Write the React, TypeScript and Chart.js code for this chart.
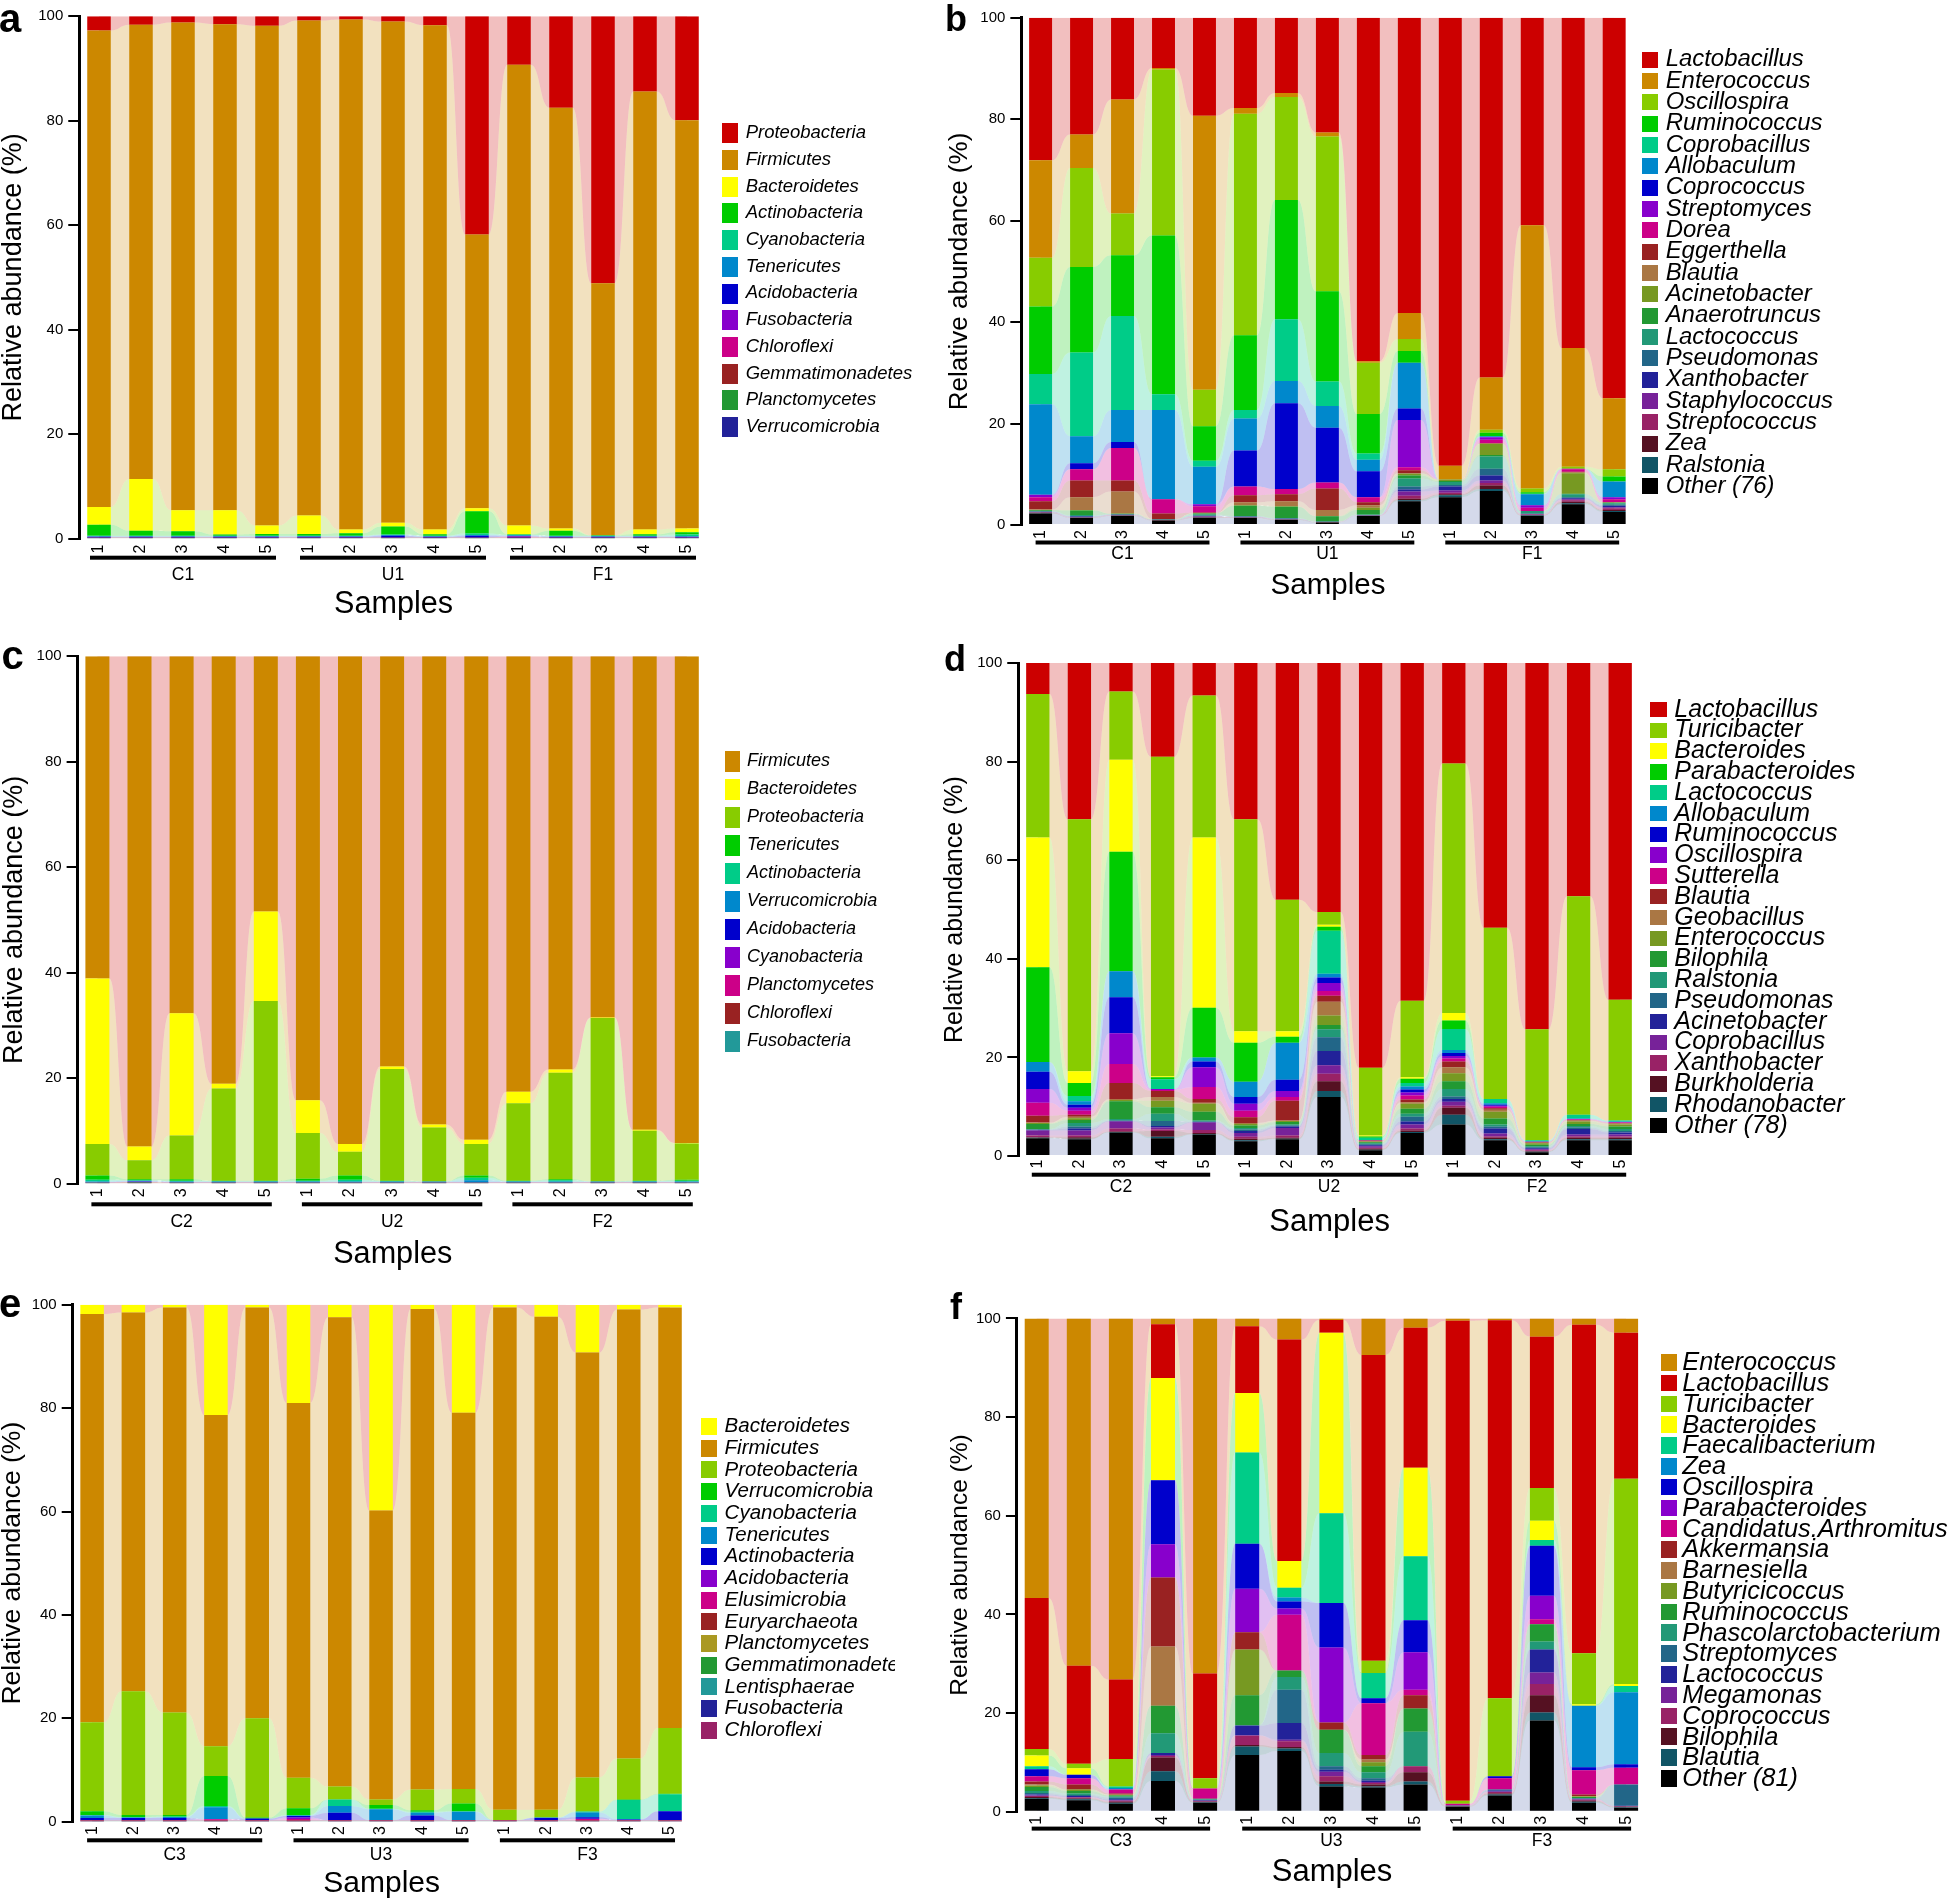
import React, { useEffect, useRef } from 'react';
import { Chart, registerables } from 'chart.js';

Chart.register(...registerables);

const SANS = '"Liberation Sans", Arial, Helvetica, sans-serif';

// ---------- shared x positions / labels ----------
const SAMPLE_IDX = [0, 1, 2, 3, 4, 5, 6, 7, 8, 9, 10, 11, 12, 13, 14];
const SAMPLE_NUMS = ['1', '2', '3', '4', '5', '1', '2', '3', '4', '5', '1', '2', '3', '4', '5'];
const GROUP_START = [0, 5, 10];
const GROUP_END = [4, 9, 14];

// colours of the translucent flows, by legend rank
const FLOW_PALETTE = ['#CC0000', '#CC8800', '#88CC00', '#00CC00', '#00CC88', '#0088CC', '#0000CC', '#8800CC', '#CC0088', '#992222', '#AA7744', '#779922', '#229933', '#229977', '#226688', '#222299', '#772299', '#992266', '#551122', '#115566', '#5566AA'];

const RED = '#CC0000', ORANGE = '#CC8800', YELLOW = '#FFFF00', YGREEN = '#88CC00', GREEN = '#00CC00', TEAL = '#00CC88', LBLUE = '#0088CC', BLUE = '#0000CC', PURPLE = '#8800CC', MAGENTA = '#CC0088', BRICK = '#992222', TAN = '#AA7744', OLIVE = '#779922', LEAF = '#229933', SEA = '#229977', STEEL = '#226688', NAVY = '#222299', PLUM = '#772299', ROSE = '#992266', MAROON = '#551122', DTEAL = '#115566', CYAN2 = '#229999', MUSTARD = '#AA9922', BLACK = '#000000';

// ---------- panel a (phylum, C1/U1/F1) ----------
const aGroups = ['C1', 'U1', 'F1'];
const aTaxa = ['Proteobacteria', 'Firmicutes', 'Bacteroidetes', 'Actinobacteria', 'Cyanobacteria', 'Tenericutes', 'Acidobacteria', 'Fusobacteria', 'Chloroflexi', 'Gemmatimonadetes', 'Planctomycetes', 'Verrucomicrobia'];
const aColors = [RED, ORANGE, YELLOW, GREEN, TEAL, LBLUE, BLUE, PURPLE, MAGENTA, BRICK, LEAF, NAVY];
const aProteobacteria = [2.7, 1.6, 1.2, 1.5, 1.8, 0.8, 0.6, 1.0, 1.7, 41.8, 9.3, 17.5, 51.1, 14.4, 19.9];
const aFirmicutes = [91.25, 87.0, 93.4, 93.1, 95.7, 94.8, 97.7, 96.0, 96.6, 52.4, 88.2, 80.6, 48.3, 83.9, 78.2];
const aBacteroidetes = [3.4, 9.9, 4.0, 4.65, 1.65, 3.55, 0.7, 0.7, 0.9, 0.6, 1.7, 0.4, 0, 0.9, 0.7];
const aActinobacteria = [2.1, 0.95, 0.85, 0.2, 0.3, 0.3, 0.45, 1.55, 0.25, 4.25, 0.1, 0.95, 0.05, 0.25, 0.45];
const aCyanobacteria = [0.1, 0.1, 0.1, 0.1, 0.1, 0.1, 0.1, 0.1, 0.1, 0.3, 0.1, 0.1, 0.1, 0.1, 0.3];
const aTenericutes = [0.1, 0.1, 0.1, 0.1, 0.1, 0.1, 0.1, 0.1, 0.1, 0.1, 0.1, 0.1, 0.1, 0.1, 0.1];
const aAcidobacteria = [0.1, 0.1, 0.1, 0.1, 0.1, 0.1, 0.1, 0.3, 0.1, 0.3, 0.1, 0.1, 0.1, 0.1, 0.1];
const aFusobacteria = [0.05, 0.05, 0.05, 0.05, 0.05, 0.05, 0.05, 0.05, 0.05, 0.05, 0.05, 0.05, 0.05, 0.05, 0.05];
const aChloroflexi = [0.05, 0.05, 0.05, 0.05, 0.05, 0.05, 0.05, 0.05, 0.05, 0.05, 0.2, 0.05, 0.05, 0.05, 0.05];
const aGemmatimonadetes = [0.05, 0.05, 0.05, 0.05, 0.05, 0.05, 0.05, 0.05, 0.05, 0.05, 0.05, 0.05, 0.05, 0.05, 0.05];
const aPlanctomycetes = [0.05, 0.05, 0.05, 0.05, 0.05, 0.05, 0.05, 0.05, 0.05, 0.05, 0.05, 0.05, 0.05, 0.05, 0.05];
const aVerrucomicrobia = [0.05, 0.05, 0.05, 0.05, 0.05, 0.05, 0.05, 0.05, 0.05, 0.05, 0.05, 0.05, 0.05, 0.05, 0.05];
const aValues = [aProteobacteria, aFirmicutes, aBacteroidetes, aActinobacteria, aCyanobacteria, aTenericutes, aAcidobacteria, aFusobacteria, aChloroflexi, aGemmatimonadetes, aPlanctomycetes, aVerrucomicrobia];

// ---------- panel b (genus, C1/U1/F1) ----------
const bGroups = ['C1', 'U1', 'F1'];
const bTaxa = ['Lactobacillus', 'Enterococcus', 'Oscillospira', 'Ruminococcus', 'Coprobacillus', 'Allobaculum', 'Coprococcus', 'Streptomyces', 'Dorea', 'Eggerthella', 'Blautia', 'Acinetobacter', 'Anaerotruncus', 'Lactococcus', 'Pseudomonas', 'Xanthobacter', 'Staphylococcus', 'Streptococcus', 'Zea', 'Ralstonia', 'Other (76)'];
const bColors = [RED, ORANGE, YGREEN, GREEN, TEAL, LBLUE, BLUE, PURPLE, MAGENTA, BRICK, TAN, OLIVE, LEAF, SEA, STEEL, NAVY, PLUM, ROSE, MAROON, DTEAL, BLACK];
const bLactobacillus = [28.1, 23.0, 16.1, 9.9, 19.3, 17.8, 14.8, 22.6, 67.7, 58.2, 88.3, 70.9, 40.9, 65.1, 75.0];
const bEnterococcus = [19.2, 6.6, 22.5, 0.3, 54.0, 1.1, 0.8, 0.8, 0.3, 5.1, 2.7, 10.3, 51.9, 23.4, 14.0];
const bOscillospira = [9.6, 19.5, 8.2, 32.7, 7.2, 43.7, 20.3, 30.5, 10.1, 2.4, 0, 0.6, 0.7, 0.4, 1.4];
const bRuminococcus = [13.3, 16.9, 12.0, 31.3, 6.8, 14.7, 23.5, 17.8, 7.8, 2.3, 0, 0.7, 0.3, 0, 1.0];
const bCoprobacillus = [6.0, 16.5, 18.5, 3.1, 1.2, 1.7, 12.2, 4.8, 1.2, 0, 0, 0, 0.1, 0, 0];
const bAllobaculum = [17.8, 5.3, 6.3, 17.6, 7.4, 6.3, 4.4, 4.3, 2.3, 9.0, 0, 0.2, 2.2, 0, 3.1];
const bCoprococcus = [0, 1.2, 1.2, 0, 0, 7.1, 16.9, 10.8, 5.1, 2.3, 0, 0, 0, 0, 0];
const bStreptomyces = [0.5, 0, 0, 0, 0.4, 0, 0, 0, 0, 9.3, 0, 0.5, 0.5, 0.1, 0.4];
const bDorea = [0.8, 2.2, 6.4, 2.8, 1.2, 1.7, 1.0, 1.2, 1.0, 0.6, 0, 0.6, 0.6, 0.5, 0.6];
const bEggerthella = [1.6, 3.3, 2.2, 1.1, 0.1, 1.4, 1.4, 4.2, 0.6, 0.6, 0, 0.1, 0, 0.1, 0];
const bBlautia = [0.1, 2.5, 4.3, 0, 0.05, 0.6, 1.0, 1.2, 0.5, 0.1, 0, 0.1, 0, 0.2, 0];
const bAcinetobacter = [0.05, 0.1, 0.05, 0.03, 0.05, 0.1, 0.1, 0.07, 0.4, 0.3, 0.3, 2.2, 0, 4.0, 0.1];
const bAnaerotruncus = [0.15, 0.9, 0.1, 0.06, 0.2, 2.0, 2.2, 1.0, 0.9, 0.6, 0.2, 0.3, 0, 0.1, 0.1];
const bLactococcus = [0.1, 0.2, 0.05, 0.03, 0.2, 0.1, 0.1, 0.05, 0.12, 1.6, 0.6, 2.4, 0.5, 0.6, 0.3];
const bPseudomonas = [0.05, 0.1, 0.05, 0.03, 0.1, 0.05, 0.05, 0.03, 0.03, 0.6, 0.3, 1.3, 0.1, 0.2, 0.2];
const bXanthobacter = [0.1, 0.1, 0.05, 0.03, 0.1, 0.05, 0.05, 0.03, 0.03, 0.4, 0.8, 1.0, 0.05, 0.2, 0.3];
const bStaphylococcus = [0.05, 0.05, 0.05, 0.03, 0.05, 0.05, 0.05, 0.03, 0.03, 0.8, 0.4, 0.5, 0.05, 0.2, 0.2];
const bStreptococcus = [0.05, 0.05, 0.05, 0.03, 0.1, 0.05, 0.05, 0.03, 0.03, 0.6, 0.3, 0.5, 0.1, 0.3, 0.3];
const bZea = [0.1, 0.05, 0.05, 0.03, 0.1, 0.05, 0.05, 0.03, 0.03, 0.3, 0.2, 0.7, 0.1, 0.3, 0.2];
const bRalstonia = [0.05, 0.05, 0.05, 0.03, 0.05, 0.05, 0.05, 0.03, 0.03, 0.2, 0.4, 0.4, 0.1, 0.2, 0.2];
const bOther = [2.3, 1.4, 1.8, 0.9, 1.4, 1.4, 1.0, 0.5, 1.8, 4.7, 5.5, 6.7, 1.8, 4.1, 2.6];
const bValues = [bLactobacillus, bEnterococcus, bOscillospira, bRuminococcus, bCoprobacillus, bAllobaculum, bCoprococcus, bStreptomyces, bDorea, bEggerthella, bBlautia, bAcinetobacter, bAnaerotruncus, bLactococcus, bPseudomonas, bXanthobacter, bStaphylococcus, bStreptococcus, bZea, bRalstonia, bOther];

// ---------- panel c (phylum, C2/U2/F2) ----------
const cGroups = ['C2', 'U2', 'F2'];
const cTaxa = ['Firmicutes', 'Bacteroidetes', 'Proteobacteria', 'Tenericutes', 'Actinobacteria', 'Verrucomicrobia', 'Acidobacteria', 'Cyanobacteria', 'Planctomycetes', 'Chloroflexi', 'Fusobacteria'];
const cColors = [ORANGE, YELLOW, YGREEN, GREEN, TEAL, LBLUE, BLUE, PURPLE, MAGENTA, BRICK, CYAN2];
const cFirmicutes = [61.1, 93.0, 67.7, 81.1, 48.4, 84.2, 92.5, 77.8, 88.8, 91.7, 82.6, 78.4, 68.5, 89.8, 92.3];
const cBacteroidetes = [31.4, 2.6, 23.2, 0.9, 17.0, 6.2, 1.5, 0.5, 0.6, 0.8, 2.2, 0.6, 0.1, 0.2, 0.1];
const cProteobacteria = [6.0, 3.6, 8.3, 17.5, 34.1, 8.7, 4.5, 21.2, 10.2, 6.0, 14.7, 20.2, 31.0, 9.5, 6.9];
const cTenericutes = [0.8, 0.2, 0.3, 0.05, 0.05, 0.4, 0.8, 0.05, 0, 0.4, 0.05, 0.2, 0, 0.05, 0.2];
const cActinobacteria = [0.3, 0.1, 0.1, 0.05, 0.05, 0.1, 0.3, 0.05, 0, 0.5, 0.05, 0.2, 0, 0.05, 0.1];
const cVerrucomicrobia = [0.1, 0.1, 0.1, 0.1, 0.1, 0.1, 0.1, 0.1, 0.1, 0.3, 0.1, 0.1, 0.1, 0.1, 0.1];
const cAcidobacteria = [0.05, 0.05, 0.05, 0.05, 0.05, 0.05, 0.05, 0.05, 0.05, 0.05, 0.05, 0.05, 0.05, 0.05, 0.05];
const cCyanobacteria = [0.05, 0.05, 0.05, 0.05, 0.05, 0.05, 0.05, 0.05, 0.05, 0.05, 0.05, 0.05, 0.05, 0.05, 0.05];
const cPlanctomycetes = [0.05, 0.05, 0.05, 0.05, 0.05, 0.05, 0.05, 0.05, 0.05, 0.05, 0.05, 0.05, 0.05, 0.05, 0.05];
const cChloroflexi = [0.1, 0.2, 0.1, 0.1, 0.1, 0.1, 0.1, 0.1, 0.1, 0.1, 0.1, 0.1, 0.1, 0.1, 0.1];
const cFusobacteria = [0.05, 0.05, 0.05, 0.05, 0.05, 0.05, 0.05, 0.05, 0.05, 0.05, 0.05, 0.05, 0.05, 0.05, 0.05];
const cValues = [cFirmicutes, cBacteroidetes, cProteobacteria, cTenericutes, cActinobacteria, cVerrucomicrobia, cAcidobacteria, cCyanobacteria, cPlanctomycetes, cChloroflexi, cFusobacteria];

// ---------- panel d (genus, C2/U2/F2) ----------
const dGroups = ['C2', 'U2', 'F2'];
const dTaxa = ['Lactobacillus', 'Turicibacter', 'Bacteroides', 'Parabacteroides', 'Lactococcus', 'Allobaculum', 'Ruminococcus', 'Oscillospira', 'Sutterella', 'Blautia', 'Geobacillus', 'Enterococcus', 'Bilophila', 'Ralstonia', 'Pseudomonas', 'Acinetobacter', 'Coprobacillus', 'Xanthobacter', 'Burkholderia', 'Rhodanobacter', 'Other (78)'];
const dColors = [RED, YGREEN, YELLOW, GREEN, TEAL, LBLUE, BLUE, PURPLE, MAGENTA, BRICK, TAN, OLIVE, LEAF, SEA, STEEL, NAVY, PLUM, ROSE, MAROON, DTEAL, BLACK];
const dLactobacillus = [6.3, 31.7, 5.8, 19.0, 6.6, 31.7, 48.0, 50.5, 82.1, 68.5, 20.4, 53.7, 74.3, 47.3, 68.3];
const dTuricibacter = [29.1, 51.1, 13.8, 64.8, 28.8, 43.0, 26.7, 2.6, 13.7, 15.5, 50.6, 34.7, 22.5, 44.3, 24.5];
const dBacteroides = [26.3, 2.4, 18.7, 0.2, 34.5, 2.3, 1.1, 0.4, 0.2, 0.3, 1.5, 0, 0, 0, 0];
const dParabacteroides = [19.2, 2.6, 24.2, 0.4, 10.1, 7.9, 1.2, 0.8, 0.3, 0.9, 1.7, 0, 0, 0, 0];
const dLactococcus = [0, 1.1, 0, 2.0, 0, 0, 0, 8.7, 0.5, 0.7, 4.3, 0.9, 0.2, 0.8, 0.2];
const dAllobaculum = [2.0, 0.7, 5.3, 0, 0.8, 3.1, 7.5, 0.8, 0, 0.6, 0.6, 0.3, 0.1, 0.1, 0.1];
const dRuminococcus = [3.5, 0.6, 7.3, 0, 1.2, 1.4, 2.3, 1.1, 0, 0.6, 0.6, 0.2, 0, 0, 0];
const dOscillospira = [2.8, 0.6, 6.2, 0.2, 4.0, 1.4, 1.2, 1.6, 0, 0.6, 0.5, 0.2, 0, 0.1, 0.1];
const dSutterella = [2.6, 0.8, 3.9, 0.2, 2.4, 1.3, 0.8, 1.0, 0.1, 0.8, 0.6, 0.3, 0.1, 0.1, 0.1];
const dBlautia = [1.4, 0.4, 3.2, 1.2, 0.8, 1.2, 4.0, 1.2, 0.1, 0.6, 1.2, 0.3, 0.1, 0.1, 0.1];
const dGeobacillus = [0.1, 0.3, 0.2, 0.8, 0.2, 0.2, 0.1, 2.8, 0.1, 0.3, 1.2, 0.4, 0.1, 0.2, 0.2];
const dEnterococcus = [0.2, 0.4, 0.3, 1.3, 1.6, 0.3, 0.2, 1.9, 0.1, 1.0, 1.6, 1.4, 0.3, 0.5, 0.4];
const dBilophila = [1.0, 0.6, 3.6, 1.3, 1.8, 0.5, 0.5, 0.9, 0.2, 1.0, 1.6, 1.2, 0.3, 0.4, 0.5];
const dRalstonia = [0.1, 0.7, 0.3, 1.5, 0.2, 0.3, 0.2, 1.6, 0.2, 0.6, 1.5, 0.4, 0.2, 0.3, 0.4];
const dPseudomonas = [0.1, 0.4, 0.1, 1.0, 0.1, 0.3, 0.2, 2.8, 0.2, 1.0, 0.5, 0.4, 0.2, 0.3, 0.3];
const dAcinetobacter = [0.1, 0.4, 0.1, 0.3, 0.1, 0.4, 0.3, 2.9, 0.2, 0.6, 0.6, 1.0, 0.2, 1.1, 0.4];
const dCoprobacillus = [1.0, 1.0, 1.4, 0.4, 1.5, 0.8, 1.5, 1.7, 0.3, 0.8, 0.8, 0.6, 0.2, 0.4, 0.4];
const dXanthobacter = [0.4, 0.4, 0.6, 0.3, 0.6, 0.4, 0.5, 1.5, 0.2, 0.4, 0.4, 0.3, 0.2, 0.3, 0.3];
const dBurkholderia = [0.1, 0.3, 0.1, 1.2, 0.2, 0.3, 0.2, 2.0, 0.2, 0.3, 1.4, 0.3, 0.1, 0.3, 0.3];
const dRhodanobacter = [0.1, 0.1, 0.1, 0.3, 0.1, 0.2, 0.1, 1.2, 0.1, 0.2, 2.0, 0.2, 0.1, 0.2, 0.2];
const dOther = [3.6, 3.4, 4.8, 3.6, 4.4, 3.0, 3.4, 12.0, 1.2, 4.7, 6.4, 3.2, 0.8, 3.2, 3.2];
const dValues = [dLactobacillus, dTuricibacter, dBacteroides, dParabacteroides, dLactococcus, dAllobaculum, dRuminococcus, dOscillospira, dSutterella, dBlautia, dGeobacillus, dEnterococcus, dBilophila, dRalstonia, dPseudomonas, dAcinetobacter, dCoprobacillus, dXanthobacter, dBurkholderia, dRhodanobacter, dOther];

// ---------- panel e (phylum, C3/U3/F3) ----------
const eGroups = ['C3', 'U3', 'F3'];
const eTaxa = ['Bacteroidetes', 'Firmicutes', 'Proteobacteria', 'Verrucomicrobia', 'Cyanobacteria', 'Tenericutes', 'Actinobacteria', 'Acidobacteria', 'Elusimicrobia', 'Euryarchaeota', 'Planctomycetes', 'Gemmatimonadetes', 'Lentisphaerae', 'Fusobacteria', 'Chloroflexi'];
const eColors = [YELLOW, ORANGE, YGREEN, GREEN, TEAL, LBLUE, BLUE, PURPLE, MAGENTA, BRICK, MUSTARD, LEAF, CYAN2, NAVY, ROSE];
const eBacteroidetes = [1.8, 1.5, 0.5, 21.3, 0.5, 19.0, 2.4, 39.8, 0.8, 20.9, 0.5, 2.3, 9.2, 0.9, 0.5];
const eFirmicutes = [79.0, 73.3, 78.4, 64.1, 79.5, 72.5, 90.8, 55.9, 93.0, 72.8, 97.2, 95.4, 82.2, 86.9, 81.4];
const eProteobacteria = [17.2, 23.9, 19.8, 5.8, 19.2, 5.9, 2.5, 1.1, 4.0, 2.8, 2.0, 1.5, 6.6, 7.9, 12.7];
const eVerrucomicrobia = [0.7, 0.4, 0.3, 5.8, 0.2, 1.3, 0, 0.7, 0.3, 1.5, 0, 0, 0, 0.1, 0.1];
const eCyanobacteria = [0.1, 0.1, 0.1, 0.2, 0, 0.1, 1.3, 0.1, 0.2, 0.1, 0, 0, 0.2, 3.7, 3.3];
const eTenericutes = [0.5, 0.1, 0.2, 2.3, 0, 0.1, 1.3, 2.1, 0.5, 1.6, 0, 0.1, 0.9, 0.1, 0];
const eActinobacteria = [0.4, 0.4, 0.4, 0, 0.3, 0.3, 1.4, 0, 0.9, 0, 0, 0.4, 0.3, 0.1, 1.7];
const eAcidobacteria = [0.05, 0.05, 0.05, 0.05, 0.05, 0.3, 0.05, 0.05, 0.05, 0.05, 0.05, 0.05, 0.05, 0.05, 0.05];
const eElusimicrobia = [0.05, 0.05, 0.05, 0.25, 0.05, 0.3, 0.05, 0.05, 0.05, 0.05, 0.05, 0.05, 0.3, 0.05, 0.05];
const eEuryarchaeota = [0.05, 0.05, 0.05, 0.05, 0.05, 0.05, 0.05, 0.05, 0.05, 0.05, 0.05, 0.05, 0.05, 0.05, 0.05];
const ePlanctomycetes = [0.03, 0.03, 0.03, 0.03, 0.03, 0.03, 0.03, 0.03, 0.03, 0.03, 0.03, 0.03, 0.03, 0.03, 0.03];
const eGemmatimonadetes = [0.03, 0.03, 0.03, 0.03, 0.03, 0.03, 0.03, 0.03, 0.03, 0.03, 0.03, 0.03, 0.03, 0.03, 0.03];
const eLentisphaerae = [0.03, 0.03, 0.03, 0.03, 0.03, 0.03, 0.03, 0.03, 0.03, 0.03, 0.03, 0.03, 0.03, 0.03, 0.03];
const eFusobacteria = [0.03, 0.03, 0.03, 0.03, 0.03, 0.03, 0.03, 0.03, 0.03, 0.03, 0.03, 0.03, 0.03, 0.03, 0.03];
const eChloroflexi = [0.03, 0.03, 0.03, 0.03, 0.03, 0.03, 0.03, 0.03, 0.03, 0.03, 0.03, 0.03, 0.03, 0.03, 0.03];
const eValues = [eBacteroidetes, eFirmicutes, eProteobacteria, eVerrucomicrobia, eCyanobacteria, eTenericutes, eActinobacteria, eAcidobacteria, eElusimicrobia, eEuryarchaeota, ePlanctomycetes, eGemmatimonadetes, eLentisphaerae, eFusobacteria, eChloroflexi];

// ---------- panel f (genus, C3/U3/F3) ----------
const fGroups = ['C3', 'U3', 'F3'];
const fTaxa = ['Enterococcus', 'Lactobacillus', 'Turicibacter', 'Bacteroides', 'Faecalibacterium', 'Zea', 'Oscillospira', 'Parabacteroides', 'Candidatus.Arthromitus', 'Akkermansia', 'Barnesiella', 'Butyricicoccus', 'Ruminococcus', 'Phascolarctobacterium', 'Streptomyces', 'Lactococcus', 'Megamonas', 'Coprococcus', 'Bilophila', 'Blautia', 'Other (81)'];
const fColors = [ORANGE, RED, YGREEN, YELLOW, TEAL, LBLUE, BLUE, PURPLE, MAGENTA, BRICK, TAN, OLIVE, LEAF, SEA, STEEL, NAVY, PLUM, ROSE, MAROON, DTEAL, BLACK];
const fEnterococcus = [56.7, 70.4, 73.2, 1.2, 72.0, 1.6, 4.3, 0.3, 7.4, 1.9, 0.5, 0.4, 3.7, 1.3, 2.9];
const fLactobacillus = [30.6, 19.9, 16.1, 10.9, 21.2, 13.5, 44.9, 2.6, 62.0, 28.4, 97.3, 76.6, 30.7, 66.6, 29.6];
const fTuricibacter = [1.3, 0.9, 5.6, 0, 2.1, 0, 0, 0, 2.5, 0, 0.6, 15.8, 6.6, 10.3, 41.6];
const fBacteroides = [2.2, 1.3, 0, 20.7, 0, 12.1, 5.4, 36.6, 0, 17.9, 0, 0, 3.9, 0.3, 0.4];
const fFaecalibacterium = [0.6, 0, 0.3, 0, 0, 18.5, 2.0, 18.2, 5.1, 13.0, 0, 0, 1.2, 0, 1.3];
const fZea = [0, 0, 0.3, 0, 0, 0, 0.8, 0, 0, 0, 0, 0, 0, 12.5, 14.6];
const fOscillospira = [1.4, 0.7, 0, 13.0, 0, 9.1, 1.4, 9.0, 1.0, 6.5, 0, 0.4, 10.1, 0.6, 0.7];
const fParabacteroides = [0, 0, 0, 6.7, 0, 8.8, 1.3, 15.2, 0, 7.6, 0, 0, 4.8, 0, 0];
const fArthromitus = [1.1, 1.3, 0.8, 0, 2.1, 0, 11.3, 0, 10.5, 1.1, 0.3, 2.3, 1.0, 4.9, 3.4];
const fAkkermansia = [0.6, 1.0, 0.2, 14.0, 0, 3.5, 0, 1.5, 0.9, 2.7, 0, 0, 0, 0.3, 0];
const fBarnesiella = [0.2, 0, 0.1, 12.0, 0, 0, 0, 0, 0.6, 0, 0, 0, 0, 0.1, 0];
const fButyricicoccus = [0.3, 0.3, 0.1, 0, 0, 9.3, 0, 0, 0.8, 0, 0, 0, 0, 0.1, 0];
const fRuminococcus = [0.8, 0.5, 0.2, 5.6, 0.1, 6.1, 1.3, 4.7, 1.2, 4.7, 0, 0, 3.5, 0.2, 0];
const fPhascolarctobacterium = [0.4, 0.3, 0.2, 4.0, 0.1, 0, 2.6, 2.7, 1.2, 7.0, 0, 0, 1.6, 0.1, 0];
const fStreptomyces = [0.3, 0.2, 0.4, 0, 0.1, 0.1, 6.7, 0.7, 0.5, 0, 0.05, 0.2, 0, 0.1, 4.3];
const fLactococcus = [0.2, 0.2, 0.2, 0.4, 0.1, 1.9, 3.4, 0.4, 0.3, 0, 0.05, 0.2, 4.7, 0.1, 0.1];
const fMegamonas = [0.1, 0.1, 0.1, 0.2, 0.1, 0.1, 0.3, 0.9, 0.2, 0, 0, 0.1, 2.3, 0.1, 0];
const fCoprococcus = [0.2, 0.2, 0.2, 0.3, 0.1, 1.9, 1.2, 1.1, 0.3, 1.2, 0.1, 0.3, 2.3, 0.2, 0.1];
const fBilophila = [0.2, 0.2, 0.2, 2.8, 0.1, 0.3, 0.3, 0.5, 0.4, 1.9, 0.05, 0.2, 3.5, 0.2, 0.1];
const fBlautia = [0.2, 0.2, 0.2, 2.0, 0.1, 1.7, 0.5, 0.5, 0.2, 0.6, 0.05, 0.2, 1.6, 0.2, 0.1];
const fOther = [2.6, 2.3, 1.6, 6.2, 1.8, 11.5, 12.3, 5.1, 4.9, 5.5, 1.0, 3.3, 18.5, 1.8, 0.8];
const fValues = [fEnterococcus, fLactobacillus, fTuricibacter, fBacteroides, fFaecalibacterium, fZea, fOscillospira, fParabacteroides, fArthromitus, fAkkermansia, fBarnesiella, fButyricicoccus, fRuminococcus, fPhascolarctobacterium, fStreptomyces, fLactococcus, fMegamonas, fCoprococcus, fBilophila, fBlautia, fOther];

// ---------- layout of the six panels ----------
type Panel = {
  letter: string; letterX: number; letterBase: number; letterSize: number;
  taxa: string[]; colors: string[]; values: number[][]; groups: string[];
  x0: number; step: number; T: number; B: number; barPct: number;
  yTitleX: number; yTitleSize: number;
  digitY: number; lineY: number; lineExt: number; labelY: number; samplesY: number; samplesSize: number;
  legX: number; legY: number; legBW: number; legBH: number; legStep: number; legTX: number; legSize: number; legClip?: number;
};

const PANELS: Panel[] = [
  { letter: 'a', letterX: -1, letterBase: 31.7, letterSize: 40, taxa: aTaxa, colors: aColors, values: aValues, groups: aGroups,
    x0: 99, step: 42.0, T: 16.3, B: 538.5, barPct: 0.56, yTitleX: 13.3, yTitleSize: 27,
    digitY: 10.5, lineY: 19.2, lineExt: 9, labelY: 37, samplesY: 66, samplesSize: 30.6,
    legX: 721.7, legY: 123.3, legBW: 16.7, legBH: 20, legStep: 26.7, legTX: 745.7, legSize: 18.5 },
  { letter: 'b', letterX: 945, letterBase: 31.6, letterSize: 36, taxa: bTaxa, colors: bColors, values: bValues, groups: bGroups,
    x0: 1040.6, step: 40.97, T: 17.8, B: 525.1, barPct: 0.56, yTitleX: 960, yTitleSize: 26,
    digitY: 9.5, lineY: 17.4, lineExt: 5, labelY: 29.3, samplesY: 61, samplesSize: 29.5,
    legX: 1642.3, legY: 51.7, legBW: 16, legBH: 16, legStep: 21.33, legTX: 1665.7, legSize: 23.9 },
  { letter: 'c', letterX: 1.5, letterBase: 668.6, letterSize: 40, taxa: cTaxa, colors: cColors, values: cValues, groups: cGroups,
    x0: 97.4, step: 42.1, T: 656.3, B: 1183.5, barPct: 0.57, yTitleX: 14.7, yTitleSize: 27,
    digitY: 9.3, lineY: 20.8, lineExt: 6, labelY: 39, samplesY: 71, samplesSize: 30.6,
    legX: 725, legY: 751, legBW: 15, legBH: 21, legStep: 28.0, legTX: 747, legSize: 18 },
  { letter: 'd', letterX: 944, letterBase: 671.5, letterSize: 36, taxa: dTaxa, colors: dColors, values: dValues, groups: dGroups,
    x0: 1037.8, step: 41.6, T: 663, B: 1156.1, barPct: 0.56, yTitleX: 955.6, yTitleSize: 25,
    digitY: 7.9, lineY: 18.6, lineExt: 6, labelY: 31, samplesY: 66.5, samplesSize: 31,
    legX: 1650, legY: 701.7, legBW: 16.7, legBH: 15.6, legStep: 20.8, legTX: 1674.3, legSize: 24.9 },
  { letter: 'e', letterX: -1, letterBase: 1317.3, letterSize: 40, taxa: eTaxa, colors: eColors, values: eValues, groups: eGroups,
    x0: 92.1, step: 41.28, T: 1304.8, B: 1821.6, barPct: 0.57, yTitleX: 12.9, yTitleSize: 26.5,
    digitY: 9, lineY: 18.7, lineExt: 5, labelY: 33.6, samplesY: 65.5, samplesSize: 30,
    legX: 700.5, legY: 1418, legBW: 16, legBH: 17, legStep: 21.7, legTX: 724.6, legSize: 20.5, legClip: 895 },
  { letter: 'f', letterX: 950, letterBase: 1319, letterSize: 36, taxa: fTaxa, colors: fColors, values: fValues, groups: fGroups,
    x0: 1036.7, step: 42.1, T: 1318.4, B: 1811.7, barPct: 0.57, yTitleX: 960, yTitleSize: 24.5,
    digitY: 8.5, lineY: 16.9, lineExt: 5, labelY: 29.6, samplesY: 60.5, samplesSize: 31,
    legX: 1660.7, legY: 1354, legBW: 16.6, legBH: 16.7, legStep: 20.8, legTX: 1682.3, legSize: 25.4 },
];

const X_MIN = -0.47;
const X_MAX = 14.5;
const DIGIT_SIZE = 16;

function rgba(hex: string, a: number) {
  const n = parseInt(hex.slice(1), 16);
  return `rgba(${(n >> 16) & 255},${(n >> 8) & 255},${n & 255},${a})`;
}

function ChartPanel({ p }: { p: Panel }) {
  const ref = useRef<HTMLCanvasElement | null>(null);
  const L = p.x0 + X_MIN * p.step;
  const R = p.x0 + X_MAX * p.step;
  const cl = Math.floor(p.yTitleX - p.yTitleSize * 0.6);
  const yTitlePad = p.yTitleX - p.yTitleSize * 0.6 - cl;
  const ct = Math.floor(p.T - 14);
  const padTop = p.T - ct;
  const cr = Math.ceil(R + 6);
  const padRight = cr - R;
  const cb = Math.min(1902, Math.ceil(p.B + p.samplesY + p.samplesSize * 0.6 + 2));
  const cw = cr - cl;
  const ch = cb - ct;
  const yw = L - cl;
  const xh = cb - p.B;
  const xTitlePad = Math.max(0, xh - p.samplesY - p.samplesSize * 0.6);

  useEffect(() => {
    const canvas = ref.current;
    if (!canvas) return;
    const n = p.taxa.length;
    const datasets: any[] = [];
    for (let i = n - 1; i >= 0; i--) {
      datasets.push({
        type: 'bar',
        label: p.taxa[i],
        data: p.values[i],
        backgroundColor: p.colors[i],
        borderWidth: 0,
        barPercentage: p.barPct,
        categoryPercentage: 1,
        stack: 'all',
        flowColor: rgba(FLOW_PALETTE[i], 0.25),
      });
    }

    const flowPlugin = {
      id: 'flows' + p.letter,
      beforeDatasetsDraw(chart: any) {
        const ctx = chart.ctx;
        const a = chart.chartArea;
        ctx.save();
        ctx.beginPath();
        ctx.rect(a.left, a.top, a.right - a.left, a.bottom - a.top);
        ctx.clip();
        chart.data.datasets.forEach((ds: any, di: number) => {
          const els = chart.getDatasetMeta(di).data;
          ctx.fillStyle = ds.flowColor;
          for (let j = 0; j + 1 < els.length; j++) {
            const e0 = els[j];
            const e1 = els[j + 1];
            const xa = e0.x + e0.width / 2;
            const xb = e1.x - e1.width / 2;
            const xm = (xa + xb) / 2;
            ctx.beginPath();
            ctx.moveTo(e0.x, e0.y);
            ctx.lineTo(xa, e0.y);
            ctx.bezierCurveTo(xm, e0.y, xm, e1.y, xb, e1.y);
            ctx.lineTo(e1.x, e1.y);
            ctx.lineTo(e1.x, e1.base);
            ctx.lineTo(xb, e1.base);
            ctx.bezierCurveTo(xm, e1.base, xm, e0.base, xa, e0.base);
            ctx.lineTo(e0.x, e0.base);
            ctx.closePath();
            ctx.fill();
          }
        });
        ctx.restore();
      },
    };

    const groupPlugin = {
      id: 'groups' + p.letter,
      afterDraw(chart: any) {
        const ctx = chart.ctx;
        const xs = chart.scales.x;
        const bottom = chart.chartArea.bottom;
        ctx.save();
        ctx.fillStyle = '#000';
        ctx.font = `17.5px ${SANS}`;
        ctx.textAlign = 'center';
        ctx.textBaseline = 'middle';
        p.groups.forEach((name, g) => {
          const c0 = xs.getPixelForValue(GROUP_START[g]);
          const c1 = xs.getPixelForValue(GROUP_END[g]);
          ctx.fillRect(c0 - p.lineExt, bottom + p.lineY - 2, c1 - c0 + 2 * p.lineExt, 4);
          ctx.fillText(name, (c0 + c1) / 2, bottom + p.labelY);
        });
        ctx.restore();
      },
    };

    const chart = new Chart(canvas, {
      type: 'bar',
      data: { labels: SAMPLE_IDX as any, datasets },
      options: {
        responsive: false,
        animation: false,
        devicePixelRatio: 1,
        events: [],
        layout: { padding: { left: 0, top: padTop, right: padRight, bottom: 0 } },
        plugins: { legend: { display: false }, tooltip: { enabled: false }, title: { display: false } },
        scales: {
          x: {
            type: 'linear',
            min: X_MIN,
            max: X_MAX,
            bounds: 'data',
            offset: false,
            stacked: true,
            grid: { display: false, drawTicks: false, tickLength: 0 },
            border: { display: false },
            afterBuildTicks: (s: any) => { s.ticks = SAMPLE_IDX.map((v) => ({ value: v })); },
            afterFit: (s: any) => { s.height = xh; },
            ticks: {
              autoSkip: false,
              minRotation: 90,
              maxRotation: 90,
              padding: Math.max(0, p.digitY - DIGIT_SIZE * 0.278),
              color: '#000',
              font: { family: SANS, size: DIGIT_SIZE },
              callback: (v: any) => SAMPLE_NUMS[Math.round(Number(v))] ?? '',
            },
            title: {
              display: true,
              text: 'Samples',
              color: '#000',
              font: { family: SANS, size: p.samplesSize },
              padding: { top: 0, bottom: xTitlePad },
            },
          },
          y: {
            type: 'linear',
            min: 0,
            max: 100,
            stacked: true,
            afterFit: (s: any) => { s.width = yw; },
            ticks: { stepSize: 20, color: '#000', padding: 5, font: { family: SANS, size: 15 } },
            grid: { display: true, drawOnChartArea: false, drawTicks: true, tickLength: 11, color: '#000', tickColor: '#000', tickWidth: 2, lineWidth: 2 },
            border: { display: true, color: '#000', width: 3 },
            title: {
              display: true,
              text: 'Relative abundance (%)',
              color: '#000',
              font: { family: SANS, size: p.yTitleSize },
              padding: { top: yTitlePad, bottom: 0 },
            },
          },
        },
      } as any,
      plugins: [flowPlugin, groupPlugin],
    });
    return () => chart.destroy();
  }, []);

  const clipRight = p.legClip ?? 1949;
  return (
    <>
      <canvas
        ref={ref}
        width={cw}
        height={ch}
        style={{ position: 'absolute', left: cl, top: ct, width: cw, height: ch, display: 'block' }}
      />
      <div style={{ position: 'absolute', left: 0, top: 0, width: clipRight, height: 1902, overflow: 'hidden', pointerEvents: 'none' }}>
        {p.taxa.map((t, i) => {
          const top = p.legY + i * p.legStep;
          const cy = top + p.legBH / 2;
          return (
            <React.Fragment key={t}>
              <div style={{ position: 'absolute', left: p.legX, top, width: p.legBW, height: p.legBH, background: p.colors[i] }} />
              <div
                style={{
                  position: 'absolute',
                  left: p.legTX,
                  top: cy - p.legSize * 0.6 - 1,
                  fontFamily: SANS,
                  fontStyle: 'italic',
                  fontSize: p.legSize,
                  lineHeight: `${p.legSize * 1.2}px`,
                  whiteSpace: 'nowrap',
                  color: '#000',
                }}
              >
                {t}
              </div>
            </React.Fragment>
          );
        })}
      </div>
      <div
        style={{
          position: 'absolute',
          left: p.letterX,
          top: p.letterBase - 0.8465 * p.letterSize,
          fontFamily: SANS,
          fontWeight: 'bold',
          fontSize: p.letterSize,
          lineHeight: `${p.letterSize}px`,
          color: '#000',
        }}
      >
        {p.letter}
      </div>
    </>
  );
}

export default function App() {
  return (
    <div style={{ position: 'absolute', left: 0, top: 0, width: 1949, height: 1902, overflow: 'hidden', background: '#fff', fontFamily: SANS }}>
      {PANELS.map((p) => (
        <ChartPanel key={p.letter} p={p} />
      ))}
    </div>
  );
}
